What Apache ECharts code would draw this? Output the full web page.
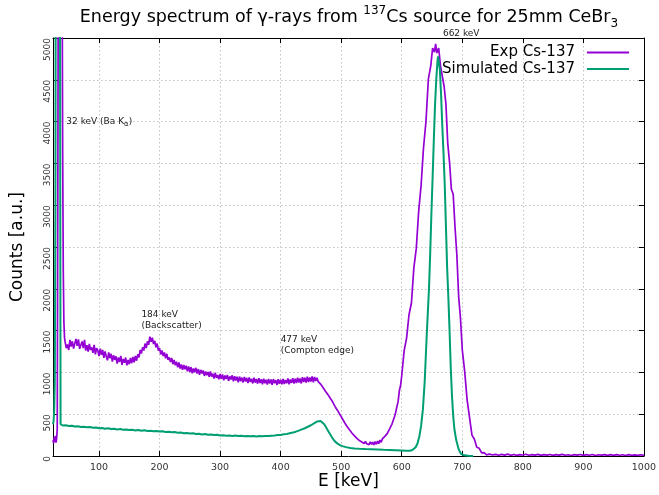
<!DOCTYPE html>
<html>
<head>
<meta charset="utf-8">
<title>137Cs spectrum CeBr3</title>
<script src="https://cdn.jsdelivr.net/npm/echarts@6/dist/echarts.min.js"></script>
<style>
  html, body { margin: 0; padding: 0; background: #fff; }
  #chart { width: 659px; height: 495px; }
</style>
</head>
<body>
<div id="chart"></div>
<script>
// measured spectrum, read off the reference plot
// low-energy part: [E keV, counts]
const expLowEnergy = [
  [24,190],[25,150],[26,230],[27,170],[28,240],[29,160],[30,210],[31,320],[32,3200],[33,7000],
  [34,10000],[36,12000],[38,9000],[39,6000],[40,3600],[41,2200],[42,1600],[43,1420]
];
// continuum, 2 keV bins from 44 keV to 600 keV
const expBandStart = 44;
const expBandStep = 2;
const expBandCounts = [
  1365,1290,1335,1268,1390,1310,1372,1285,1345,1400,
  1318,1395,1282,1305,1370,1290,1388,1262,1325,1250,
  1340,1268,1300,1235,1328,1215,1290,1262,1195,1285,
  1210,1268,1175,1250,1190,1145,1238,1170,1222,1128,
  1205,1150,1192,1105,1180,1125,1198,1090,1160,1115,
  1178,1085,1150,1098,1172,1110,1185,1120,1198,1140,
  1215,1180,1268,1225,1300,1262,1345,1290,1372,1330,
  1428,1365,1415,1340,1378,1300,1345,1262,1290,1215,
  1262,1195,1238,1168,1222,1150,1180,1125,1172,1098,
  1150,1085,1128,1060,1118,1045,1095,1030,1088,1038,
  1080,1012,1070,1005,1062,990,1048,1002,1055,985,
  1040,972,1030,988,1022,958,1012,965,1005,948,
  1010,950,985,925,995,935,968,918,982,925,
  975,905,962,920,970,898,952,915,965,893,
  955,902,948,880,950,895,938,880,945,890,
  935,872,940,885,925,868,938,878,920,865,
  930,872,918,858,925,870,912,855,922,868,
  915,852,920,870,908,850,918,865,912,858,
  922,862,910,870,928,858,915,875,932,866,
  925,872,938,880,928,868,942,885,935,878,
  948,885,940,892,952,880,945,898,935,890,
  912,860,875,820,830,775,790,735,745,690,
  705,645,650,590,605,545,555,495,505,445,
  450,395,405,350,362,310,318,272,285,240,
  250,210,225,185,205,168,188,150,175,148,
  170,135,168,138,165,132,172,140,178,148,
  190,165,205,190,235,215,268,255,325,318,
  385,400,470,520,590,650,780,840,960
];
// photopeak and tail: [E keV, counts]
const expPeakTail = [
  [604,1260],[608,1410],[612,1690],[616,1830],[620,2250],[624,2480],[628,2930],[632,3240],[636,3690],
  [640,4000],[644,4510],[648,4670],[651,4880],[654,4830],[656,4930],[658,4820],[661,4880],[664,4670],[667,4660],
  [670,4420],[673,4210],[676,3740],[679,3510],[682,3190],[685,3130],[688,2740],[691,2410],[694,1910],[697,1650],
  [700,1270],[704,1010],[708,670],[712,460],[716,250],[720,200],[724,105],[728,92],[732,38],[736,40],
  [740,14],[745,22],[750,12],[755,20],[760,9],[765,19],[770,11],[775,22],[780,8],[785,18],
  [790,7],[795,17],[800,12],[805,21],[810,9],[815,16],[820,10],[825,19],[830,8],[835,17],
  [840,11],[845,18],[850,7],[855,16],[860,10],[865,19],[870,9],[875,15],[880,6],[885,17],
  [890,10],[895,18],[900,7],[905,16],[910,9],[915,18],[920,6],[925,15],[930,10],[935,17],
  [940,8],[945,16],[950,7],[955,17],[960,9],[965,15],[970,6],[975,16],[980,8],[985,14],
  [990,7],[995,15],[1000,8]
];

// simulated spectrum: [E keV, counts]
const simSpectrum = [
  [24,380],[25,420],[26,550],[27,900],[28,3000],[28.5,6000],[29,9000],[30,10500],[32,11000],[34,10000],
  [35,8000],[36,3000],[36.5,380],[37,372],[40,365],[45,368],[50,358],[55,362],[60,352],[65,356],
  [70,348],[75,351],[80,343],[85,347],[90,338],[95,342],[100,333],[105,336],[110,327],[115,331],
  [120,322],[125,326],[130,318],[135,322],[140,314],[145,318],[150,311],[155,315],[160,306],[165,311],
  [170,303],[175,307],[180,299],[185,303],[190,296],[195,300],[200,292],[205,296],[210,288],[215,291],
  [220,283],[225,286],[230,278],[235,281],[240,272],[245,276],[250,268],[255,271],[260,263],[265,266],
  [270,258],[275,262],[280,254],[285,258],[290,250],[295,254],[300,246],[305,249],[310,243],[315,246],
  [320,240],[325,244],[330,238],[335,241],[340,236],[345,240],[350,235],[355,238],[360,234],[365,238],
  [370,235],[375,239],[380,238],[385,243],[390,244],[395,250],[400,252],[405,259],[410,263],[415,272],
  [420,280],[425,291],[430,304],[435,318],[440,332],[445,350],[450,368],[455,390],[460,412],[463,420],
  [466,418],[469,405],[472,380],[475,345],[478,305],[481,268],[484,232],[487,200],[490,172],[494,148],
  [498,130],[502,118],[508,106],[515,97],[522,91],[530,87],[540,83],[550,80],[560,77],[570,74],
  [580,72],[590,70],[600,67],[608,64],[613,63],[617,68],[620,80],[623,105],[626,150],[629,230],
  [632,360],[635,560],[638,900],[641,1400],[643,1700],[645,2000],[647,2420],[649,2900],[651,3330],[653,3780],
  [655,4200],[657,4500],[659,4720],[660,4780],[661,4760],[663,4620],[665,4320],[667,3950],[669,3620],[671,3250],
  [673,2750],[675,2250],[677,1900],[679,1500],[681,1050],[683,720],[685,480],[687,320],[690,190],[694,80],
  [698,25],[703,8],[710,3],[718,1]
];

const xTicks = [100, 200, 300, 400, 500, 600, 700, 800, 900, 1000];
const seriesNames = ['Exp Cs-137', 'Simulated Cs-137'];

// text labels placed in data units (keV, counts)
const annotations = [
  { text: '662 keV', e: 668, c: 5055 },
  { text: '32 keV (Ba K{sub|α})', e: 46, c: 3995 },
  { text: '184 keV\n(Backscatter)', e: 170, c: 1626 },
  { text: '477 keV\n(Compton edge)', e: 400, c: 1329 }
];

const expSpectrum = expLowEnergy
  .concat(expBandCounts.map(function (c, i) { return [expBandStart + i * expBandStep, c]; }))
  .concat(expPeakTail);

const FONT = 'DejaVu Sans';
const plain = function (v) { return String(v); };
const chart = echarts.init(document.getElementById('chart'));

const frameAxis = {
  axisLine: { show: true, onZero: false, lineStyle: { color: '#000', width: 1 } },
  axisTick: { show: true, inside: true, length: 5, lineStyle: { color: '#000' } },
  axisLabel: { show: false },
  splitLine: { show: false }
};

chart.setOption({
  animation: false,
  backgroundColor: '#fff',
  title: {
    text: 'Energy spectrum of γ-rays from {sup|137}Cs source for 25mm CeBr{sub|3}',
    left: 344,
    top: 0,
    textAlign: 'center',
    textStyle: {
      fontFamily: FONT, fontSize: 17.5, fontWeight: 'normal', color: '#000', lineHeight: 25,
      rich: {
        sup: { fontFamily: FONT, fontSize: 12, lineHeight: 12, verticalAlign: 'top', color: '#000' },
        sub: { fontFamily: FONT, fontSize: 12, lineHeight: 12, verticalAlign: 'bottom', color: '#000' }
      }
    }
  },
  legend: {
    data: [
      { name: seriesNames[0], icon: 'rect' },
      { name: seriesNames[1], icon: 'rect' }
    ],
    orient: 'vertical',
    align: 'right',
    right: 30,
    top: 45,
    padding: 0,
    itemWidth: 42,
    itemHeight: 2,
    itemGap: 1.5,
    selectedMode: false,
    textStyle: { fontFamily: FONT, fontSize: 15, color: '#000', padding: [0, 7, 0, 0] }
  },
  grid: { left: 53, right: 14, top: 38, bottom: 32, containLabel: false },
  xAxis: [
    {
      type: 'value', min: 24, max: 1000, position: 'bottom',
      axisLine: { show: true, onZero: false, lineStyle: { color: '#000', width: 1 } },
      axisTick: { show: true, inside: true, length: 5, customValues: xTicks, lineStyle: { color: '#000' } },
      axisLabel: { customValues: xTicks, formatter: plain, fontFamily: FONT, fontSize: 9.5, color: '#333', margin: 7 },
      splitLine: { show: true, lineStyle: { color: '#c4c4c4', width: 1, type: [1.5, 2.5] } },
      name: 'E [keV]', nameLocation: 'middle', nameGap: 17, nameMoveOverlap: false,
      nameTextStyle: { fontFamily: FONT, fontSize: 17, color: '#000' }
    },
    Object.assign({ type: 'value', min: 24, max: 1000, position: 'top' }, frameAxis,
      { axisTick: Object.assign({}, frameAxis.axisTick, { customValues: xTicks }) })
  ],
  yAxis: [
    {
      type: 'value', min: 0, max: 5000, interval: 500, position: 'left',
      axisLine: { show: true, onZero: false, lineStyle: { color: '#000', width: 1 } },
      axisTick: { show: true, inside: true, length: 5, lineStyle: { color: '#000' } },
      axisLabel: { rotate: 90, align: 'right', verticalAlign: 'bottom', formatter: plain, fontFamily: FONT, fontSize: 9, color: '#333', margin: 1 },
      splitLine: { show: true, lineStyle: { color: '#c4c4c4', width: 1, type: [1.5, 2.5] } },
      name: 'Counts [a.u.]', nameLocation: 'middle', nameGap: 27, nameMoveOverlap: false,
      nameTextStyle: { fontFamily: FONT, fontSize: 17, color: '#000' }
    },
    Object.assign({ type: 'value', min: 0, max: 5000, interval: 500, position: 'right' }, frameAxis)
  ],
  series: [
    {
      name: seriesNames[0], type: 'line', data: expSpectrum,
      symbol: 'none', clip: true,
      lineStyle: { color: '#9400d3', width: 1.7 },
      itemStyle: { color: '#9400d3' }
    },
    {
      name: seriesNames[1], type: 'line', data: simSpectrum,
      symbol: 'none', clip: true,
      lineStyle: { color: '#009e73', width: 2 },
      itemStyle: { color: '#009e73' }
    }
  ]
});

const labelGraphics = annotations.map(function (a) {
  const p = chart.convertToPixel({ xAxisIndex: 0, yAxisIndex: 0 }, [a.e, a.c]);
  return {
    type: 'text', x: p[0], y: p[1], silent: true, z: 10,
    style: {
      text: a.text, fill: '#222', fontFamily: FONT, fontSize: 9, lineHeight: 11,
      align: 'left', verticalAlign: 'middle',
      rich: { sub: { fontFamily: FONT, fontSize: 7, lineHeight: 7, verticalAlign: 'bottom', fill: '#222' } }
    }
  };
});
chart.setOption({ graphic: labelGraphics });
</script>
</body>
</html>
